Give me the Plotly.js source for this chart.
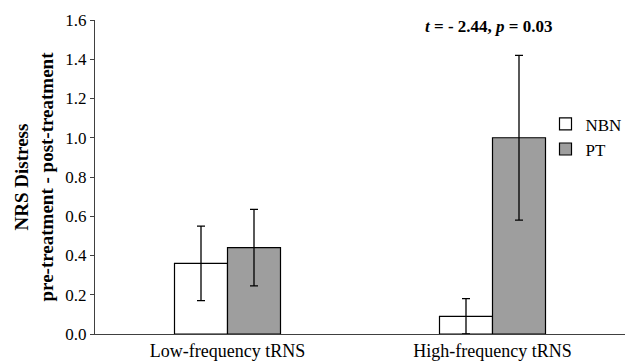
<!DOCTYPE html>
<html>
<head>
<meta charset="utf-8">
<script src="https://cdn.plot.ly/plotly-3.0.1.min.js"></script>
<style>html,body{margin:0;padding:0;background:#fff;}#chart{width:625px;height:361px;}</style>
</head>
<body>
<div id="chart"></div>
<script>
const categories = ["Low-frequency tRNS", "High-frequency tRNS"];
const nbnValues = [0.36, 0.09];
const nbnErrors = [0.19, 0.09];
const ptValues = [0.44, 1.00];
const ptErrors = [0.195, 0.42];
const yTicks = [0, 0.2, 0.4, 0.6, 0.8, 1.0, 1.2, 1.4, 1.6];
const statText = "<b><i>t</i> = - 2.44, <i>p</i> = 0.03</b>";

const font = "Liberation Serif, Times New Roman, serif";

const traces = [
  {
    type: "bar", name: "NBN", x: categories, y: nbnValues,
    marker: {color: "#ffffff", line: {color: "#000000", width: 1.2}},
    error_y: {type: "data", array: nbnErrors, visible: true, color: "#000000", thickness: 1.3, width: 4}
  },
  {
    type: "bar", name: "PT", x: categories, y: ptValues,
    marker: {color: "#9e9e9e", line: {color: "#000000", width: 1.2}},
    error_y: {type: "data", array: ptErrors, visible: true, color: "#000000", thickness: 1.3, width: 4}
  }
];

const layout = {
  width: 625, height: 361,
  margin: {l: 95, r: 0, t: 20, b: 27, autoexpand: false},
  paper_bgcolor: "#ffffff", plot_bgcolor: "#ffffff",
  font: {family: font, size: 17, color: "#000000"},
  barmode: "group", bargap: 0.6, bargroupgap: 0,
  showlegend: true,
  legend: {x: 0.85, xanchor: "left", y: 0.725, yanchor: "top", font: {family: font, size: 17}, bgcolor: "rgba(0,0,0,0)", tracegroupgap: 0, itemwidth: 30},
  xaxis: {
    showline: true, linecolor: "#404040", linewidth: 1, ticks: "", showgrid: false, zeroline: false,
    tickfont: {family: font, size: 18}, fixedrange: true
  },
  yaxis: {
    range: [0, 1.6], tickvals: yTicks, tickformat: ".1f",
    showline: true, linecolor: "#404040", linewidth: 1, ticks: "outside", ticklen: 4, tickcolor: "#404040",
    showgrid: false, zeroline: false, tickfont: {family: font, size: 17},
    title: {text: "<b>NRS Distress</b><br><b>pre-treatment - post-treatment</b>", font: {family: font, size: 19}, standoff: 6}
  },
  annotations: [
    {xref: "x", yref: "paper", x: 1, y: 0.978, xshift: -4, text: statText, showarrow: false, font: {family: font, size: 17}, xanchor: "center", yanchor: "middle"}
  ]
};

Plotly.newPlot("chart", traces, layout, {displayModeBar: false, staticPlot: true});
</script>
</body>
</html>
